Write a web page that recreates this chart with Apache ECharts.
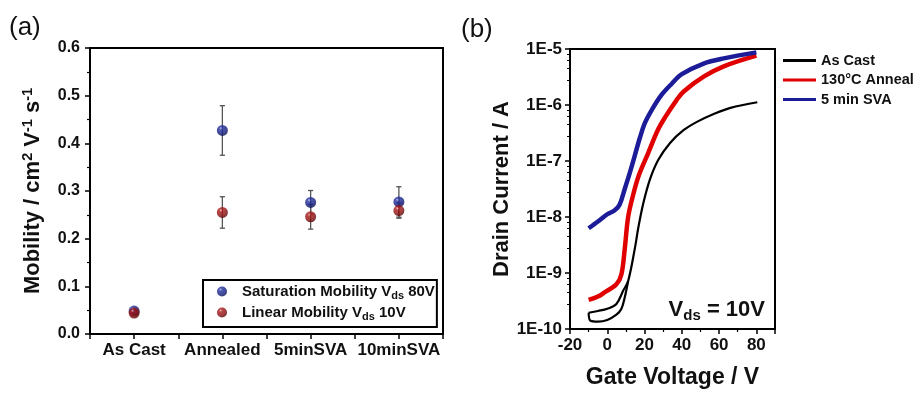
<!DOCTYPE html>
<html><head><meta charset="utf-8">
<script src="https://cdn.jsdelivr.net/npm/echarts@6/dist/echarts.min.js"></script>
<style>html,body{margin:0;padding:0;background:#fff}#c{width:916px;height:394px}</style>
</head><body><div id="c"></div>
<script>
// ---- Panel (a) data ----
const categories = ['As Cast', 'Annealed', '5minSVA', '10minSVA'];
const satMobility = [0.048, 0.427, 0.276, 0.277];
const satError    = [0.003, 0.052, 0.025, 0.032];
const linMobility = [0.044, 0.255, 0.246, 0.259];
const linError    = [0.003, 0.033, 0.026, 0.016];
const mobilityTicks = [0, 0.1, 0.2, 0.3, 0.4, 0.5, 0.6];

// ---- Panel (b) data ----
const svaV = [-10, -5, 0, 4, 6.6, 9.4, 12, 14.8, 17.5, 20.2, 24, 29, 34.6, 40, 51.7, 62.5, 80];
const svaI = [6.3e-9, 8.3e-9, 1.12e-8, 1.32e-8, 1.66e-8, 3.2e-8, 6.0e-8, 1.26e-7, 2.6e-7, 4.8e-7, 8.3e-7, 1.5e-6, 2.4e-6, 3.55e-6, 5.5e-6, 6.8e-6, 8.7e-6];
const annV = [-10, -5, -1.5, 4.9, 7.6, 9.4, 11.2, 13.9, 17, 22, 27, 31, 37, 41, 51.7, 62.5, 80];
const annI = [3.3e-10, 3.8e-10, 4.5e-10, 6.3e-10, 9.5e-10, 2.75e-9, 1.0e-8, 2.5e-8, 5.6e-8, 1.4e-7, 3.5e-7, 6.0e-7, 1.2e-6, 1.74e-6, 3.2e-6, 4.9e-6, 7.6e-6];
const castV = [-10, -5, 0, 4.9, 8.5, 11.2, 14.8, 16.6, 19.3, 22.9, 27.4, 33.7, 40.9, 48.1, 57.1, 66.1, 80.5];
const castI = [1.95e-10, 2.1e-10, 2.3e-10, 2.8e-10, 4.8e-10, 7.2e-10, 2.75e-9, 6.3e-9, 1.74e-8, 4.7e-8, 1.05e-7, 2.1e-7, 3.55e-7, 5.0e-7, 6.9e-7, 8.9e-7, 1.12e-6];
const castRevV = [-10, -9, -5, 0, 4.9, 7.6, 9.4, 11.2];
const castRevI = [1.95e-10, 1.4e-10, 1.35e-10, 1.45e-10, 1.8e-10, 2.3e-10, 3.7e-10, 7.2e-10];
const currentTicks = ['1E-10', '1E-9', '1E-8', '1E-7', '1E-6', '1E-5'];
const voltageTicks = [-20, 0, 20, 40, 60, 80];

const F = 'Arial, "Liberation Sans", sans-serif';
const chart = echarts.init(document.getElementById('c'));

const blueBall = new echarts.graphic.RadialGradient(0.36, 0.3, 0.7, [
  {offset: 0, color: '#a8acea'}, {offset: 0.22, color: '#22309e'}, {offset: 0.7, color: '#121c80'}, {offset: 1, color: '#080e50'}]);
const redBall = new echarts.graphic.RadialGradient(0.36, 0.3, 0.7, [
  {offset: 0, color: '#eeb0b0'}, {offset: 0.22, color: '#a81818'}, {offset: 0.7, color: '#8c0e0e'}, {offset: 1, color: '#560404'}]);

function errBar(params, api) {
  const x = api.value(0), y = api.value(1), e = api.value(2);
  const t = api.coord([x, y + e]), b = api.coord([x, y - e]);
  const c = 2.6, st = {stroke: '#555', lineWidth: 1.3};
  return {type: 'group', children: [
    {type: 'line', shape: {x1: t[0], y1: t[1], x2: b[0], y2: b[1]}, style: st},
    {type: 'line', shape: {x1: t[0] - c, y1: t[1], x2: t[0] + c, y2: t[1]}, style: st},
    {type: 'line', shape: {x1: b[0] - c, y1: b[1], x2: b[0] + c, y2: b[1]}, style: st}
  ]};
}

const legendNames = {
  'Saturation Mobility': '{g|}{n|Saturation Mobility V}{s|ds}{n| 80V}',
  'Linear Mobility': '{g|}{n|Linear Mobility V}{s|ds}{n| 10V}'
};

const axisLine = {onZero: false, lineStyle: {color: '#000', width: 2}};

chart.setOption({
  animation: false,
  textStyle: {fontFamily: F},
  grid: [
    {left: 90, top: 48, width: 353, height: 286, show: true, borderColor: '#000', borderWidth: 2, backgroundColor: 'transparent'},
    {left: 570, top: 49, width: 205, height: 285, show: true, borderColor: '#000', borderWidth: 2, backgroundColor: 'transparent'}
  ],
  legend: [
    {
      data: ['Saturation Mobility', 'Linear Mobility'],
      orient: 'vertical', left: 203, top: 280,
      padding: [4, 2, 5, 14], itemGap: 4,
      borderColor: '#000', borderWidth: 2,
      itemWidth: 10, itemHeight: 10, icon: 'circle',
      formatter: n => legendNames[n],
      textStyle: {rich: {
        g: {width: 10},
        n: {fontSize: 15, fontWeight: 'bold', color: '#111', fontFamily: F},
        s: {fontSize: 11, fontWeight: 'bold', color: '#111', fontFamily: F, padding: [8, 0, 0, 0]}
      }}
    },
    {
      data: ['As Cast', '130°C Anneal', '5 min SVA'],
      orient: 'vertical', left: 778, top: 53,
      padding: [0, 0, 0, 5], itemGap: 4.5,
      itemWidth: 33, itemHeight: 3, icon: 'rect',
      textStyle: {fontSize: 14.5, fontWeight: 'bold', color: '#111', fontFamily: F}
    }
  ],
  xAxis: [
    {
      gridIndex: 0, type: 'value', min: 0.5, max: 4.5, interval: 0.5,
      axisLine: axisLine, splitLine: {show: false},
      axisTick: {show: true, inside: false, length: 5, lineStyle: {width: 1.5, color: '#000'}},
      axisLabel: {margin: 8, fontSize: 17, fontWeight: 'bold', color: '#111', fontFamily: F,
        formatter: v => Number.isInteger(v) ? categories[v - 1] : ''}
    },
    {
      gridIndex: 1, type: 'value', min: -20, max: 90, interval: 20,
      axisLine: axisLine, splitLine: {show: false},
      axisTick: {show: true, length: 5, lineStyle: {width: 1.5, color: '#000'}},
      minorTick: {show: true, splitNumber: 2, length: 3, lineStyle: {width: 1.2, color: '#000'}},
      axisLabel: {margin: 8, fontSize: 17, fontWeight: 'bold', color: '#111', fontFamily: F,
        formatter: v => voltageTicks.includes(v) ? String(v) : ''},
      name: 'Gate Voltage / V', nameLocation: 'middle', nameGap: 37,
      nameTextStyle: {fontSize: 23, fontWeight: 'bold', color: '#111', fontFamily: F}
    }
  ],
  yAxis: [
    {
      gridIndex: 0, type: 'value', min: 0, max: 0.6, interval: 0.1,
      axisLine: axisLine, splitLine: {show: false},
      axisTick: {show: true, length: 5, lineStyle: {width: 1.5, color: '#000'}},
      minorTick: {show: true, splitNumber: 2, length: 3, lineStyle: {width: 1.2, color: '#000'}},
      axisLabel: {margin: 10, fontSize: 16, fontWeight: 'bold', color: '#111', fontFamily: F,
        formatter: v => { const t = mobilityTicks.find(m => Math.abs(m - v) < 1e-9); return t === undefined ? '' : t.toFixed(1); }},
      name: 'Mobility / cm{sup|2} V{sup|-1} s{sup|-1}', nameLocation: 'middle', nameGap: 45,
      nameTextStyle: {fontSize: 22, fontWeight: 'bold', color: '#111', fontFamily: F,
        rich: {sup: {fontSize: 14.5, fontWeight: 'bold', color: '#111', fontFamily: F, padding: [0, 0, 10, 0]}}}
    },
    {
      gridIndex: 1, type: 'log', logBase: 10, min: 1e-10, max: 1e-5, interval: 1,
      axisLine: axisLine, splitLine: {show: false},
      axisTick: {show: true, length: 5, lineStyle: {width: 1.5, color: '#000'}},
      minorTick: {show: true, splitNumber: 5, length: 3, lineStyle: {width: 1, color: '#000'}},
      axisLabel: {margin: 8, fontSize: 17, fontWeight: 'bold', color: '#111', fontFamily: F,
        formatter: v => { const k = Math.round(Math.log10(v)); return currentTicks.includes('1E' + k) ? '1E' + k : ''; }},
      name: 'Drain Current / A', nameLocation: 'middle', nameGap: 56,
      nameTextStyle: {fontSize: 22, fontWeight: 'bold', color: '#111', fontFamily: F}
    }
  ],
  graphic: [
    {type: 'text', left: 9, top: 15, style: {text: '(a)', fontSize: 26, fontFamily: F, fill: '#111'}},
    {type: 'text', left: 461, top: 17, style: {text: '(b)', fontSize: 26, fontFamily: F, fill: '#111'}},
    {type: 'text', right: 151, top: 299, style: {
      text: '{v|V}{s|ds}{v| = 10V}', fill: '#111',
      rich: {v: {fontSize: 22, fontWeight: 'bold', fontFamily: F, fill: '#111'},
             s: {fontSize: 15, fontWeight: 'bold', fontFamily: F, fill: '#111', padding: [12, 0, 0, 0]}}}}
  ],
  series: [
    {type: 'custom', name: 'satErr', xAxisIndex: 0, yAxisIndex: 0, renderItem: errBar, z: 1,
      data: satMobility.map((v, i) => [i + 1, v, satError[i]])},
    {type: 'custom', name: 'linErr', xAxisIndex: 0, yAxisIndex: 0, renderItem: errBar, z: 1,
      data: linMobility.map((v, i) => [i + 1, v, linError[i]])},
    {type: 'scatter', name: 'Saturation Mobility', xAxisIndex: 0, yAxisIndex: 0, z: 3,
      symbolSize: 11, itemStyle: {color: blueBall},
      data: satMobility.map((v, i) => [i + 1, v])},
    {type: 'scatter', name: 'Linear Mobility', xAxisIndex: 0, yAxisIndex: 0, z: 4,
      symbolSize: 11, itemStyle: {color: redBall},
      data: linMobility.map((v, i) => [i + 1, v])},
    {type: 'line', name: 'As Cast', xAxisIndex: 1, yAxisIndex: 1, showSymbol: false, smooth: 0.35,
      lineStyle: {color: '#000', width: 2.2}, itemStyle: {color: '#000'},
      data: castV.map((v, i) => [v, castI[i]])},
    {type: 'line', name: 'As Cast', xAxisIndex: 1, yAxisIndex: 1, showSymbol: false, smooth: 0.35,
      lineStyle: {color: '#000', width: 2.2}, itemStyle: {color: '#000'},
      data: castRevV.map((v, i) => [v, castRevI[i]])},
    {type: 'line', name: '130°C Anneal', xAxisIndex: 1, yAxisIndex: 1, showSymbol: false, smooth: 0.35,
      lineStyle: {color: '#e00000', width: 4.5}, itemStyle: {color: '#e00000'},
      data: annV.map((v, i) => [v, annI[i]])},
    {type: 'line', name: '5 min SVA', xAxisIndex: 1, yAxisIndex: 1, showSymbol: false, smooth: 0.35,
      lineStyle: {color: '#1c1c98', width: 4.5}, itemStyle: {color: '#1c1c98'},
      data: svaV.map((v, i) => [v, svaI[i]])}
  ]
});
</script></body></html>
